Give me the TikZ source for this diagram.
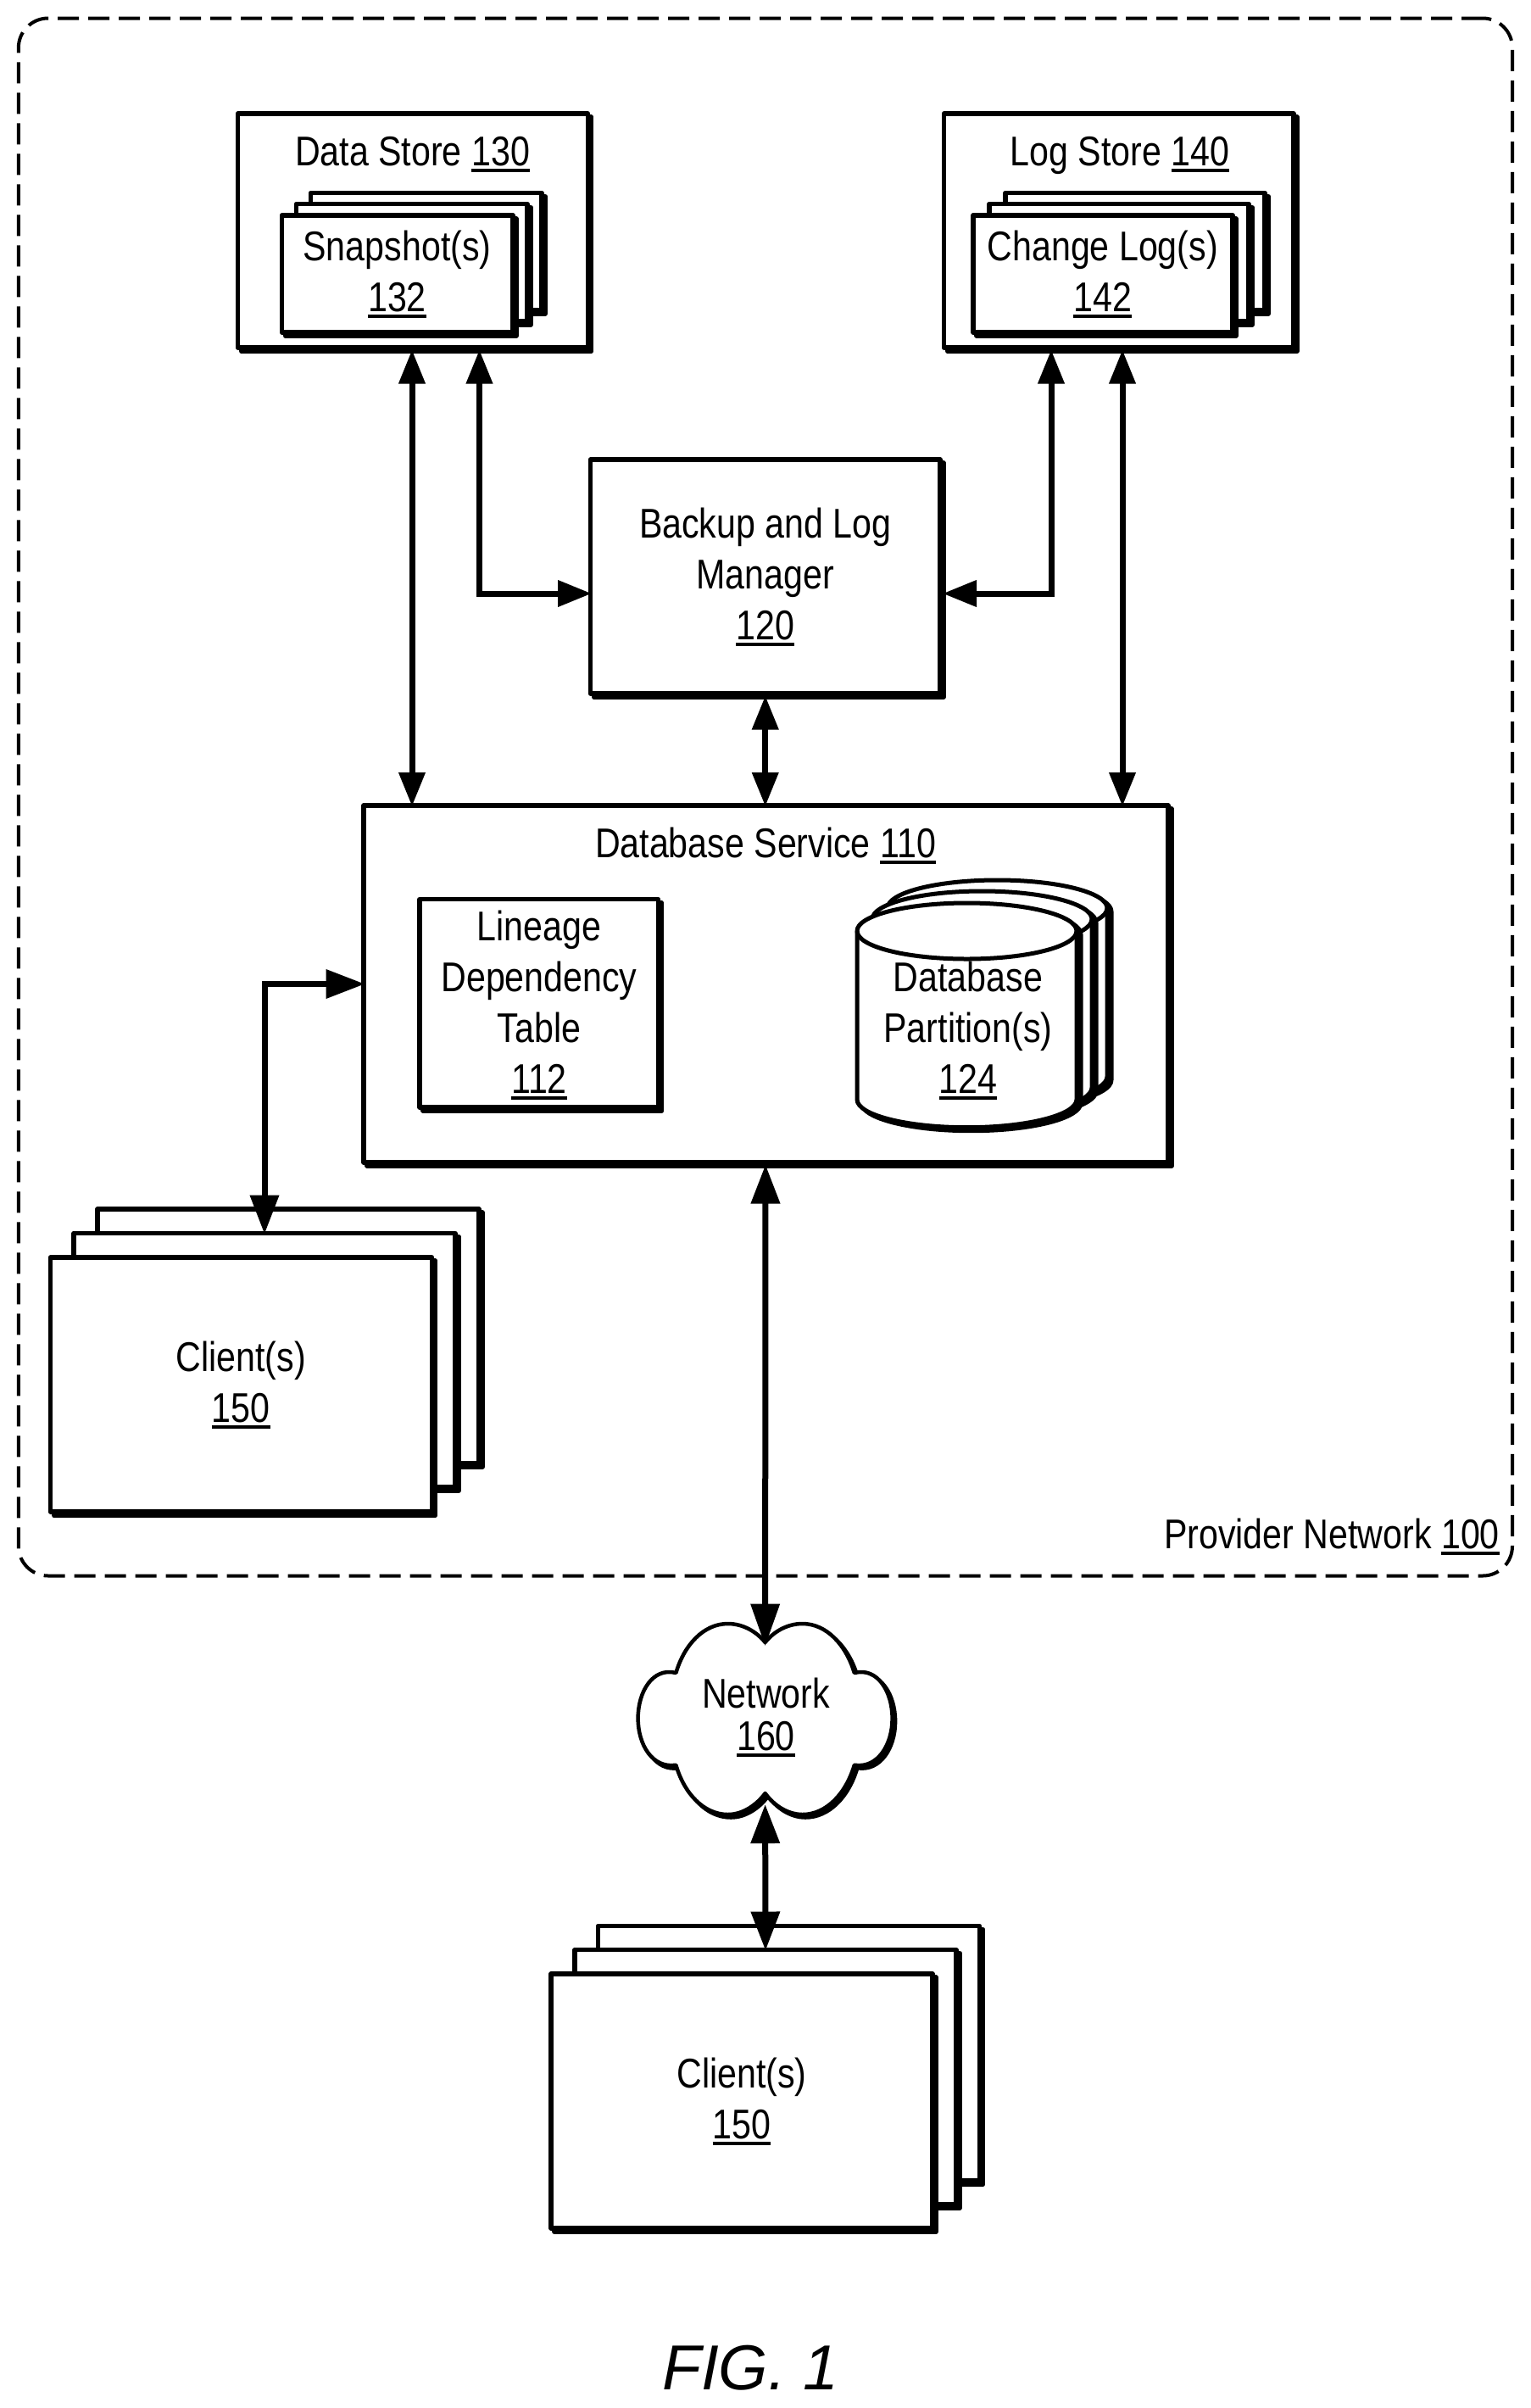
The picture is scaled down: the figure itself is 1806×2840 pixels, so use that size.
\documentclass[tikz,border=0pt]{standalone}
\usepackage{fontspec}
\setmainfont[FakeStretch=0.84]{Liberation Sans}
\newfontfamily\figfont{Liberation Sans}
\usetikzlibrary{arrows.meta,shadows}
\newcommand{\un}[1]{\setbox0=\hbox{#1}\hbox{\rlap{\rule[-7.5pt]{\wd0}{4pt}}\box0}}
\newcommand{\cloudshape}{(902.6,1937)
 .. controls (912,1925) and (928,1915) .. (946.6,1915)
 .. controls (975,1915) and (998,1940) .. (1007.8,1973)
 .. controls (1035,1966) and (1052.6,1995) .. (1052.6,2026.7)
 .. controls (1052.6,2058) and (1035,2086) .. (1007.8,2081.7)
 .. controls (998,2115) and (975,2140) .. (946.6,2140)
 .. controls (928,2140) and (912,2128) .. (902.6,2115)
 .. controls (893,2128) and (877,2140) .. (858.6,2140)
 .. controls (830,2140) and (807,2115) .. (797.4,2081.7)
 .. controls (770,2086) and (752.6,2058) .. (752.6,2026.7)
 .. controls (752.6,1995) and (770,1966) .. (797.4,1973)
 .. controls (807,1940) and (830,1915) .. (858.6,1915)
 .. controls (877,1915) and (893,1925) .. cycle}
\newcommand{\cylshape}[2]{(#1,#2) -- ++(0,198.7)
 arc[start angle=180,end angle=360,x radius=129.5pt,y radius=33pt] -- ++(0,-198.7)
 arc[start angle=0,end angle=180,x radius=129.5pt,y radius=33pt] -- cycle}
\newcommand{\dbcyl}[2]{%
 \draw[cyl,fill=black,xshift=5pt,yshift=-4pt] \cylshape{#1}{#2};
 \draw[cyl,fill=white] \cylshape{#1}{#2};
 \draw[cyl] (#1,#2) arc[start angle=180,end angle=360,x radius=129.5pt,y radius=33pt];}
\tikzset{
 bx/.style={draw=black,fill=white,line width=5.5pt,inner sep=0pt,outer sep=0pt,line join=round,anchor=north west,
  general shadow={draw=black,fill=black,line width=5.5pt,shadow xshift=4.2pt,shadow yshift=-4.2pt}},
 lbl/.style={anchor=base,align=center,inner sep=0pt,outer sep=0pt,font=\fontsize{49}{60}\selectfont},
 cyl/.style={draw=black,line width=5pt,line join=round},
 conn/.style={line width=7pt,draw=black},
 sm/.style={{Triangle[length=40pt,width=30pt]}-{Triangle[length=40pt,width=30pt]}},
 lg/.style={{Triangle[length=46pt,width=33pt]}-{Triangle[length=46pt,width=33pt]}},
}
\begin{document}
\begin{tikzpicture}[x=1pt,y=-1pt]
\useasboundingbox[fill=white] (0,0) rectangle (1806,2840);
% provider network
\node[draw=black,line width=4pt,dash pattern=on 25pt off 11pt,rounded corners=35pt,inner sep=0pt,outer sep=0pt,
  anchor=north west,minimum width=1762.2pt,minimum height=1837pt] (pn) at (21.8,21.5) {};
\node[lbl] (pnt) at (1571,1826.7) {Provider Network \un{100}};
% data store
\node[bx,minimum width=413pt,minimum height=276pt] (ds) at (280.5,134) {};
\node[lbl] (dst) at (486.5,195) {Data Store \un{130}};
\node[bx,minimum width=272.5pt,minimum height=138.5pt] (ss3) at (366.5,227.5) {};
\node[bx,minimum width=272.5pt,minimum height=138.5pt] (ss2) at (349.5,240.5) {};
\node[bx,minimum width=272.5pt,minimum height=138pt] (ss1) at (332.5,254) {};
\node[lbl] (sst) at (468.5,367) {Snapshot(s)\\\un{132}};
% log store
\node[bx,minimum width=412.5pt,minimum height=276pt] (ls) at (1113.5,134) {};
\node[lbl] (lst) at (1321,195.5) {Log Store \un{140}};
\node[bx,minimum width=306pt,minimum height=138.5pt] (cl3) at (1186,227.5) {};
\node[bx,minimum width=306pt,minimum height=138.5pt] (cl2) at (1167,240.5) {};
\node[bx,minimum width=306pt,minimum height=138pt] (cl1) at (1148,254) {};
\node[lbl] (clt) at (1300.8,367) {Change Log(s)\\\un{142}};
% backup and log manager
\node[bx,minimum width=412.5pt,minimum height=276pt] (bm) at (696.5,542) {};
\node[lbl] (bmt) at (902.8,754.5) {Backup and Log\\Manager\\\un{120}};
% database service
\node[bx,minimum width=949pt,minimum height=421pt] (db) at (429,950) {};
\node[lbl] (dbt) at (903,1011.7) {Database Service \un{110}};
\node[bx,minimum width=281.5pt,minimum height=245.3pt] (ld) at (495,1060.7) {};
\node[lbl] (ldt) at (636,1289) {Lineage\\Dependency\\Table\\\un{112}};
\dbcyl{1047}{1071}
\dbcyl{1029}{1084}
\dbcyl{1011}{1098}
\node[lbl] (pt) at (1142,1289.3) {Database\\Partition(s)\\\un{124}};
% clients left
\node[bx,minimum width=450pt,minimum height=300pt] (ca3) at (115,1426) {};
\node[bx,minimum width=450pt,minimum height=299.5pt] (ca2) at (87,1454.5) {};
\node[bx,minimum width=450pt,minimum height=300pt] (ca1) at (59.5,1483) {};
\node[lbl] (cat) at (284.2,1677.3) {Client(s)\\\un{150}};
% network
\draw[line width=4.5pt,draw=black,fill=black,xshift=3.5pt,yshift=-3.5pt,line join=round] \cloudshape;
\draw[line width=4.5pt,draw=black,fill=white,line join=round] \cloudshape;
\node[lbl,font=\fontsize{49}{50}\selectfont] (net) at (903.5,2064.3) {Network\\\un{160}};
\coordinate (nettop) at (902.6,1941.5);
\coordinate (netbot) at (902.6,2128);
% clients bottom
\node[bx,minimum width=450pt,minimum height=300.5pt] (cb3) at (705.5,2271.5) {};
\node[bx,minimum width=450pt,minimum height=300.5pt] (cb2) at (678,2299.5) {};
\node[bx,minimum width=450pt,minimum height=300pt] (cb1) at (650,2328) {};
\node[lbl] (cbt) at (875,2522.5) {Client(s)\\\un{150}};
% figure label
\node[anchor=base,inner sep=0pt,font=\figfont\itshape\fontsize{75}{80}\selectfont] (fig) at (885.5,2818) {FIG. 1};
% connectors
\draw[conn,sm] ([xshift=-1pt,yshift=-2.5pt]ds.south) -- ([xshift=-417.5pt,yshift=-1pt]db.north);
\draw[conn,sm] ([xshift=78.5pt,yshift=-2.5pt]ds.south) |- ([xshift=1.5pt,yshift=-20pt]bm.west);
\draw[conn,sm] ([xshift=-79.75pt,yshift=-2.5pt]ls.south) |- ([xshift=3pt,yshift=-20pt]bm.east);
\draw[conn,sm] ([xshift=4.25pt,yshift=-2.5pt]ls.south) -- ([xshift=420.5pt,yshift=-1pt]db.north);
\draw[conn,sm] ([yshift=-2.5pt]bm.south) -- ([xshift=-0.75pt,yshift=-1pt]db.north);
\draw[conn,lg] ([xshift=1.5pt]db.west) -| ([yshift=-1pt]ca2.north);
\draw[conn,{Triangle[length=46pt,width=33pt]}-{Triangle[length=50pt,width=33pt]}] ([xshift=-0.5pt,yshift=-2.5pt]db.south) -- (nettop);
\draw[conn,lg] (netbot) -- ([yshift=-1pt]cb2.north);
\end{tikzpicture}
\end{document}
